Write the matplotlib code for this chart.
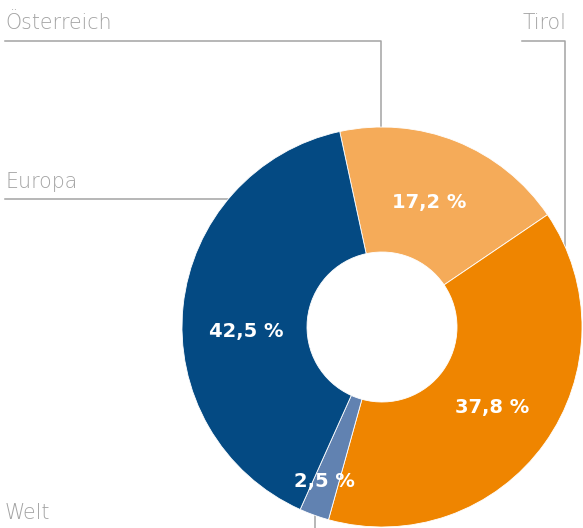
import numpy as np
import matplotlib
matplotlib.use("Agg")
import matplotlib.pyplot as plt

# Werte (Reihenfolge im Uhrzeigersinn, beginnend oben)
regions = ["Österreich", "Tirol", "Welt", "Europa"]
pct_labels = ["17,2 %", "37,8 %", "2,5 %", "42,5 %"]
shares = [18.9, 38.8, 2.4, 39.9]
colors = ["#f5ab59", "#ef8500", "#6182b1", "#044a83"]

W, H = 583, 528
fig = plt.figure(figsize=(W / 100, H / 100), dpi=100)
ax = fig.add_axes([0, 0, 1, 1])

cx, cy = 382, H - 327   # Mittelpunkt in Pixeln (y nach oben)
R, r_in = 200, 75

ax.pie(shares, colors=colors, startangle=102.2, counterclock=False,
       center=(cx, cy), radius=R,
       wedgeprops=dict(width=R - r_in, edgecolor="white", linewidth=0.6))
ax.set_xlim(0, W)
ax.set_ylim(0, H)
ax.set_aspect("equal")
ax.axis("off")

plt.rcParams["font.family"] = ["DejaVu Sans"]
grey = "#a3a3a3"


def edge_y(x, top=True):
    d = np.sqrt(R ** 2 - (x - cx) ** 2)
    return cy + d if top else cy - d


def Y(y):
    return H - y


# Beschriftungslinien
lw = 1.1
ax.plot([5, 381, 381], [Y(41), Y(41), edge_y(381)], color=grey, lw=lw, zorder=0)
ax.plot([522, 565, 565], [Y(41), Y(41), edge_y(565)], color=grey, lw=lw, zorder=0)
ex = cx - np.sqrt(R ** 2 - (cy - Y(199)) ** 2)
ax.plot([5, ex], [Y(199), Y(199)], color=grey, lw=lw, zorder=0)
ax.plot([315, 315], [edge_y(315, top=False), -5], color=grey, lw=lw, zorder=0)

# Regionsnamen
name_style = dict(fontsize=14.8, color=grey, fontweight=200, va="baseline")
ax.text(5, Y(29), "Österreich", ha="left", **name_style)
ax.text(566, Y(29), "Tirol", ha="right", **name_style)
ax.text(5, Y(188), "Europa", ha="left", **name_style)
ax.text(5, Y(519), "Welt", ha="left", **name_style)

# Prozentwerte
label_pos = [(429, 208), (492, 413), (324, 487), (246, 337)]
for txt, (x, y) in zip(pct_labels, label_pos):
    ax.text(x, Y(y), txt, ha="center", va="baseline", color="white",
            fontsize=14, fontweight="bold")

fig.savefig("out.png", dpi=100)
